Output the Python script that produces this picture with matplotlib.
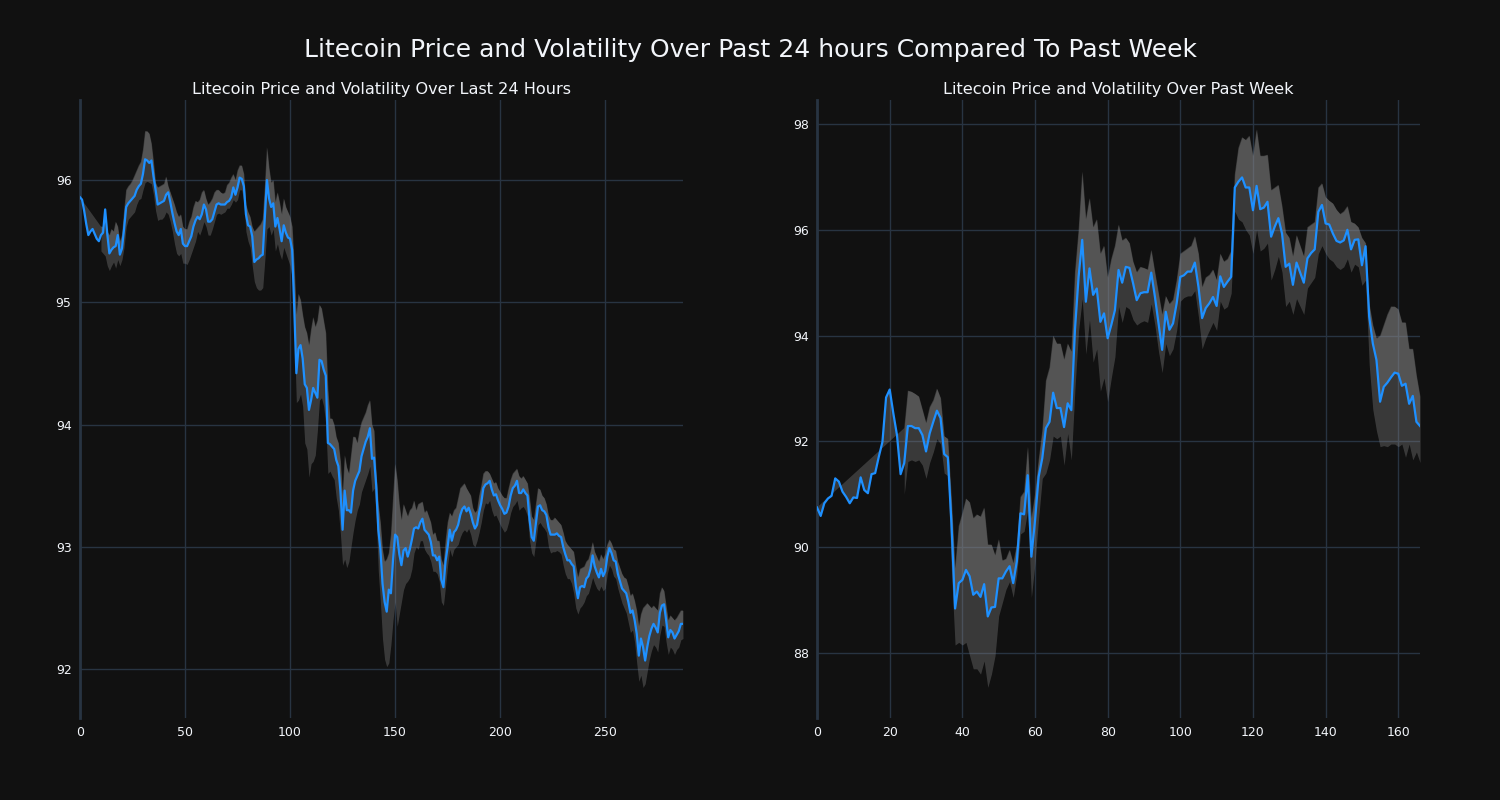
import numpy as np
import matplotlib
matplotlib.use("Agg")
import matplotlib.pyplot as plt

plt.rcParams['font.family'] = ['DejaVu Sans']

# last 24 hours, 5 minute steps
close_24h = [
    95.86, 95.84, 95.75, 95.64, 95.55, 95.58, 95.60, 95.56, 95.52, 95.50,
    95.55, 95.57, 95.76, 95.56, 95.40, 95.43, 95.45, 95.46, 95.55, 95.39,
    95.44, 95.60, 95.78, 95.81, 95.83, 95.85, 95.87, 95.92, 95.95, 95.97,
    96.05, 96.17, 96.16, 96.14, 96.16, 96.03, 95.92, 95.80, 95.81, 95.82,
    95.83, 95.88, 95.90, 95.82, 95.73, 95.65, 95.58, 95.55, 95.60, 95.48,
    95.46, 95.46, 95.50, 95.54, 95.62, 95.67, 95.70, 95.68, 95.72, 95.80,
    95.76, 95.66, 95.66, 95.68, 95.74, 95.80, 95.81, 95.80, 95.80, 95.80,
    95.82, 95.83, 95.86, 95.94, 95.88, 95.94, 96.02, 96.01, 95.95, 95.72,
    95.63, 95.62, 95.54, 95.33, 95.35, 95.36, 95.38, 95.39, 95.70, 96.00,
    95.85, 95.78, 95.81, 95.62, 95.69, 95.60, 95.50, 95.63, 95.57, 95.53,
    95.52, 95.43, 94.95, 94.42, 94.62, 94.65, 94.54, 94.33, 94.30, 94.12,
    94.20, 94.30, 94.26, 94.22, 94.53, 94.52, 94.45, 94.40, 93.85, 93.84,
    93.82, 93.80, 93.71, 93.66, 93.45, 93.14, 93.46, 93.30, 93.30, 93.28,
    93.46, 93.54, 93.58, 93.62, 93.74, 93.80, 93.86, 93.90, 93.97, 93.72,
    93.73, 93.50, 93.14, 92.98, 92.70, 92.55, 92.47, 92.65, 92.62, 92.89,
    93.10, 93.08, 92.94, 92.85, 92.97, 92.99, 92.92, 92.98, 93.06, 93.15,
    93.16, 93.15, 93.20, 93.23, 93.14, 93.12, 93.10, 93.04, 92.93, 92.93,
    92.89, 92.92, 92.73, 92.67, 92.88, 93.00, 93.14, 93.05, 93.12, 93.14,
    93.18, 93.26, 93.31, 93.33, 93.29, 93.32, 93.27, 93.20, 93.15, 93.18,
    93.28, 93.36, 93.48, 93.51, 93.52, 93.54, 93.47, 93.42, 93.43, 93.38,
    93.34, 93.31, 93.27, 93.28, 93.33, 93.42, 93.48, 93.50, 93.54, 93.44,
    93.44, 93.47, 93.44, 93.42, 93.22, 93.08, 93.05, 93.19, 93.33, 93.34,
    93.30, 93.29, 93.26, 93.16, 93.10, 93.10, 93.10, 93.11, 93.09, 93.08,
    93.00, 92.94, 92.89, 92.89, 92.86, 92.84, 92.68, 92.58, 92.67, 92.68,
    92.67, 92.74, 92.76, 92.82, 92.93, 92.84, 92.79, 92.75, 92.82, 92.76,
    92.80, 92.92, 92.99, 92.95, 92.89, 92.88, 92.78, 92.72, 92.66, 92.64,
    92.62, 92.55, 92.46, 92.48, 92.40, 92.29, 92.11, 92.25, 92.18, 92.07,
    92.18, 92.27, 92.33, 92.37, 92.34, 92.30, 92.46, 92.52, 92.53, 92.40,
    92.26, 92.32, 92.30, 92.25, 92.28, 92.31, 92.37, 92.37,
]

upper_24h = [np.nan] * 10 + [
    95.62, 95.62, 95.60, 95.58, 95.55, 95.60, 95.58, 95.66, 95.62, 95.50,
    95.55, 95.75, 95.92, 95.95, 95.97, 96.00, 96.04, 96.08, 96.12, 96.15,
    96.25, 96.40, 96.40, 96.38, 96.30, 96.15, 95.98, 95.94, 95.95, 95.96,
    95.97, 96.03, 95.95, 95.90, 95.85, 95.80, 95.74, 95.70, 95.72, 95.62,
    95.60, 95.60, 95.66, 95.70, 95.78, 95.83, 95.82, 95.84, 95.90, 95.92,
    95.85, 95.80, 95.82, 95.85, 95.90, 95.92, 95.92, 95.90, 95.89, 95.90,
    95.96, 95.98, 96.02, 96.05, 96.00, 96.08, 96.12, 96.12, 96.05, 95.80,
    95.74, 95.70, 95.62, 95.58, 95.60, 95.62, 95.64, 95.68, 95.95, 96.27,
    96.10, 95.98, 96.00, 95.82, 95.90, 95.82, 95.72, 95.85, 95.78, 95.74,
    95.70, 95.62, 95.30, 94.90, 95.07, 95.02, 94.90, 94.80, 94.75, 94.65,
    94.78, 94.88, 94.80, 94.85, 94.98, 94.95, 94.85, 94.75, 94.30, 94.05,
    94.05, 94.00, 93.90, 93.85, 93.70, 93.42, 93.75, 93.65, 93.60, 93.75,
    93.90, 93.90, 93.85, 93.95, 94.02, 94.06, 94.10, 94.16, 94.20, 94.00,
    93.95, 93.60, 93.35, 93.20, 92.98, 92.88, 92.90, 92.95, 93.10, 93.40,
    93.68, 93.55, 93.35, 93.22, 93.35, 93.30, 93.25, 93.30, 93.32, 93.38,
    93.30, 93.35, 93.36, 93.37, 93.28, 93.30, 93.25, 93.20, 93.10, 93.12,
    93.05, 93.05, 92.90, 92.85, 93.05, 93.20, 93.28, 93.25, 93.30, 93.32,
    93.40, 93.48, 93.50, 93.52, 93.48, 93.45, 93.42, 93.32, 93.28, 93.30,
    93.42, 93.50, 93.60, 93.62, 93.62, 93.60, 93.56, 93.52, 93.53, 93.48,
    93.45, 93.42, 93.40, 93.40, 93.48, 93.55, 93.60, 93.62, 93.64, 93.58,
    93.56, 93.58, 93.55, 93.52, 93.40, 93.25, 93.22, 93.35, 93.48, 93.47,
    93.42, 93.40, 93.35, 93.26, 93.22, 93.22, 93.24, 93.22, 93.20, 93.18,
    93.12, 93.05, 93.02, 93.00, 92.98, 92.96, 92.85, 92.75, 92.82, 92.83,
    92.84, 92.88, 92.90, 92.96, 93.04, 92.96, 92.92, 92.88, 92.94, 92.90,
    92.94, 93.02, 93.06, 93.03, 92.98, 92.97, 92.88, 92.83, 92.78, 92.75,
    92.74, 92.68, 92.60, 92.62, 92.56, 92.48, 92.35, 92.45, 92.50, 92.52,
    92.54, 92.52, 92.50, 92.52, 92.50, 92.48, 92.62, 92.67, 92.64, 92.52,
    92.40, 92.44, 92.42, 92.40, 92.42, 92.45, 92.48, 92.48,
]

lower_24h = [np.nan] * 10 + [
    95.42, 95.40, 95.38, 95.30, 95.26, 95.30, 95.33, 95.28, 95.35, 95.30,
    95.35, 95.45, 95.62, 95.68, 95.70, 95.72, 95.74, 95.80, 95.84, 95.85,
    95.92, 95.98, 95.99, 95.98, 95.97, 95.88, 95.75, 95.67, 95.68, 95.68,
    95.70, 95.74, 95.72, 95.66, 95.58, 95.48, 95.40, 95.38, 95.40, 95.32,
    95.32, 95.31, 95.35, 95.40, 95.45, 95.50, 95.58, 95.55, 95.60, 95.66,
    95.62, 95.55, 95.55, 95.60, 95.66, 95.72, 95.73, 95.72, 95.73, 95.74,
    95.77, 95.77, 95.80, 95.84, 95.82, 95.84, 95.92, 95.92, 95.82, 95.58,
    95.50, 95.45, 95.30, 95.17, 95.12, 95.10, 95.10, 95.12, 95.35, 95.60,
    95.62, 95.55, 95.60, 95.42, 95.48, 95.40, 95.35, 95.45, 95.40, 95.35,
    95.30, 95.20, 94.75, 94.18, 94.20, 94.25, 94.15, 93.85, 93.80, 93.57,
    93.68, 93.70, 93.75, 93.95, 94.20, 94.22, 94.15, 94.00, 93.60, 93.62,
    93.58, 93.55, 93.40, 93.30, 93.10, 92.85, 92.90, 92.83, 92.88, 93.00,
    93.12, 93.22, 93.30, 93.35, 93.45, 93.50, 93.55, 93.60, 93.66, 93.45,
    93.48, 93.25, 92.80, 92.55, 92.25, 92.08, 92.02, 92.05, 92.20, 92.40,
    92.55, 92.35, 92.45, 92.55, 92.65, 92.70, 92.72, 92.75, 92.82, 92.95,
    93.00, 92.98, 93.05, 93.05, 92.98, 92.95, 92.93, 92.88, 92.80, 92.80,
    92.78, 92.72, 92.55, 92.52, 92.68, 92.85, 92.98, 92.92, 92.98, 93.00,
    93.02, 93.08, 93.12, 93.14, 93.12, 93.15, 93.10, 93.02, 93.00, 93.05,
    93.12, 93.20, 93.30, 93.36, 93.35, 93.38, 93.30, 93.25, 93.26, 93.22,
    93.18, 93.15, 93.12, 93.14, 93.20, 93.28, 93.33, 93.35, 93.38, 93.30,
    93.32, 93.33, 93.30, 93.25, 93.05, 92.95, 92.92, 93.05, 93.18, 93.20,
    93.17, 93.15, 93.12, 93.00, 92.95, 92.96, 92.96, 92.97, 92.96, 92.94,
    92.85, 92.78, 92.74, 92.74, 92.70, 92.62, 92.50, 92.45, 92.50, 92.52,
    92.55, 92.60, 92.62, 92.68, 92.75, 92.70, 92.66, 92.64, 92.68, 92.64,
    92.66, 92.78, 92.85, 92.82, 92.76, 92.74, 92.66, 92.60, 92.54, 92.50,
    92.46, 92.38, 92.30, 92.32, 92.22, 92.05, 91.90, 91.95, 91.85, 91.88,
    91.98, 92.08, 92.15, 92.20, 92.18, 92.14, 92.28, 92.36, 92.35, 92.22,
    92.12, 92.18, 92.16, 92.12, 92.16, 92.18, 92.24, 92.25,
]

# past week, hourly steps
close_week = [
    90.75, 90.59, 90.83, 90.92, 90.97, 91.30, 91.24, 91.05, 90.95, 90.83,
    90.94, 90.93, 91.32, 91.08, 91.02, 91.38, 91.40, 91.71, 91.99, 92.83,
    92.98, 92.53, 92.12, 91.38, 91.59, 92.29, 92.29, 92.25, 92.25, 92.12,
    91.81, 92.15, 92.37, 92.58, 92.44, 91.76, 91.70, 90.45, 88.84, 89.32,
    89.38, 89.57, 89.45, 89.10, 89.16, 89.06, 89.30, 88.69, 88.86, 88.87,
    89.41, 89.41, 89.54, 89.64, 89.32, 89.73, 90.64, 90.62, 91.36, 89.82,
    90.50, 91.33, 91.68, 92.25, 92.37, 92.92, 92.63, 92.63, 92.27, 92.72,
    92.59, 94.11, 95.11, 95.81, 94.64, 95.27, 94.77, 94.89, 94.26, 94.42,
    93.95, 94.20, 94.48, 95.24, 95.00, 95.30, 95.28, 94.99, 94.67, 94.80,
    94.82, 94.82, 95.19, 94.74, 94.23, 93.73, 94.45, 94.11, 94.23, 94.61,
    95.11, 95.14, 95.21, 95.21, 95.38, 94.92, 94.33, 94.52, 94.61, 94.73,
    94.56, 95.12, 94.92, 95.02, 95.11, 96.80, 96.91, 96.99, 96.80, 96.80,
    96.37, 96.83, 96.39, 96.42, 96.53, 95.87, 96.06, 96.22, 95.93, 95.30,
    95.36, 94.96, 95.38, 95.19, 95.00, 95.46, 95.56, 95.63, 96.34, 96.47,
    96.12, 96.10, 95.93, 95.79, 95.76, 95.80, 96.00, 95.63, 95.81, 95.82,
    95.33, 95.69, 94.36, 93.85, 93.54, 92.75, 93.03, 93.11, 93.21, 93.30,
    93.28, 93.05, 93.09, 92.71, 92.86, 92.37, 92.29,
]

upper_week = [np.nan] * 24 + [
    92.25, 92.96, 92.94, 92.90, 92.85, 92.60, 92.35, 92.65, 92.78, 93.00,
    92.82, 92.10, 92.05, 90.90, 89.60, 90.40, 90.65, 90.92, 90.85, 90.55,
    90.62, 90.58, 90.75, 90.05, 90.05, 89.85, 90.15, 89.75, 89.78, 89.95,
    89.70, 90.05, 90.95, 91.05, 91.90, 90.55, 91.00, 91.65, 92.20, 93.15,
    93.40, 94.00, 93.85, 93.85, 93.55, 93.85, 93.70, 95.20, 96.00, 97.10,
    96.20, 96.60, 96.05, 96.20, 95.55, 95.70, 95.10, 95.45, 95.70, 96.10,
    95.80, 95.85, 95.75, 95.40, 95.20, 95.30, 95.28, 95.25, 95.62, 95.20,
    94.80, 94.40, 94.75, 94.60, 94.68, 95.05, 95.55, 95.60, 95.65, 95.70,
    95.88, 95.55, 94.92, 95.10, 95.15, 95.25, 95.05, 95.55, 95.40, 95.45,
    95.60, 97.05, 97.55, 97.75, 97.70, 97.78, 97.40, 97.90, 97.40, 97.40,
    97.42, 96.75, 96.80, 96.85, 96.45, 95.95, 95.85, 95.50, 95.90, 95.70,
    95.50, 96.05, 96.10, 96.15, 96.80, 96.88, 96.62, 96.55, 96.50, 96.38,
    96.30, 96.35, 96.45, 96.15, 96.12, 96.05, 95.85, 95.75, 94.60, 94.20,
    93.95, 94.00, 94.20, 94.40, 94.55, 94.55, 94.50, 94.25, 94.25, 93.75,
    93.75, 93.25, 92.85,
]

lower_week = [np.nan] * 24 + [
    91.00, 91.62, 91.65, 91.62, 91.65, 91.55, 91.30, 91.60, 91.80, 92.05,
    91.95, 91.40, 91.35, 89.55, 88.15, 88.20, 88.15, 88.20, 87.95, 87.70,
    87.70, 87.60, 87.85, 87.35, 87.60, 87.95, 88.70, 88.95, 89.20, 89.35,
    89.05, 89.50, 90.25, 90.30, 90.70, 89.05, 89.70, 90.55, 91.30, 91.40,
    91.65, 92.10, 92.05, 92.10, 91.55, 92.15, 91.65, 93.00, 94.10, 94.70,
    93.65, 94.30, 93.50, 93.75, 92.95, 93.20, 92.75, 93.20, 93.60, 94.55,
    94.25, 94.55, 94.50, 94.30, 94.20, 94.25, 94.28, 94.25, 94.60, 94.20,
    93.70, 93.30, 93.85, 93.62, 93.75, 94.10, 94.65, 94.72, 94.75, 94.75,
    94.85, 94.35, 93.75, 93.95, 94.10, 94.25, 94.10, 94.65, 94.50, 94.55,
    94.80, 96.35, 96.20, 96.15, 96.00, 95.90, 95.55, 96.00, 95.60, 95.65,
    95.75, 95.05, 95.25, 95.50, 95.20, 94.55, 94.65, 94.40, 94.70, 94.55,
    94.40, 94.90, 95.00, 95.10, 95.55, 95.70, 95.55, 95.45, 95.40, 95.30,
    95.25, 95.30, 95.45, 95.20, 95.35, 95.30, 94.95, 95.05, 93.45, 92.60,
    92.20, 91.90, 91.92, 91.90, 91.95, 91.95, 91.90, 91.95, 91.70, 91.95,
    91.65, 91.80, 91.60,
]

BG = '#111111'
GRID = '#283442'
TEXT = '#f2f5fa'
LINE = '#1e90ff'
BAND = '#898989'


def draw(ax, close, upper, lower, title, xticks, yticks, ylim):
    close = np.array(close)
    upper = np.array(upper)
    lower = np.array(lower)
    x = np.arange(len(close))
    ok = ~np.isnan(upper)
    # price -> upper band, then upper -> lower band, both half transparent
    ax.fill(np.concatenate([x, x[ok][::-1]]),
            np.concatenate([close, upper[ok][::-1]]),
            color=BAND, alpha=0.34, lw=0, zorder=1)
    ax.fill_between(x[ok], upper[ok], lower[ok], color=BAND, alpha=0.34,
                    lw=0, zorder=1)
    ax.plot(x, close, color=LINE, lw=1.6, zorder=3)

    ax.set_facecolor(BG)
    ax.set_xlim(0, len(close) - 1)
    ax.set_ylim(*ylim)
    ax.set_xticks(xticks)
    ax.set_yticks(yticks)
    ax.grid(True, color=GRID, lw=1)
    ax.set_axisbelow(True)
    for s in ['top', 'right', 'bottom']:
        ax.spines[s].set_visible(False)
    ax.spines['left'].set_color(GRID)
    ax.spines['left'].set_linewidth(2)
    ax.tick_params(length=0, colors=TEXT, labelsize=9, pad=6)
    ax.set_title(title, color=TEXT, fontsize=11.6, pad=4)


fig = plt.figure(figsize=(15, 8), dpi=100, facecolor=BG)
ax1 = fig.add_axes([0.0533, 0.1025, 0.402, 0.7725])
ax2 = fig.add_axes([0.5447, 0.1025, 0.402, 0.7725])

draw(ax1, close_24h, upper_24h, lower_24h,
     'Litecoin Price and Volatility Over Last 24 Hours',
     [0, 50, 100, 150, 200, 250], [92, 93, 94, 95, 96], (91.6, 96.655))
draw(ax2, close_week, upper_week, lower_week,
     'Litecoin Price and Volatility Over Past Week',
     [0, 20, 40, 60, 80, 100, 120, 140, 160], [88, 90, 92, 94, 96, 98],
     (86.77, 98.454))

fig.suptitle('Litecoin Price and Volatility Over Past 24 hours Compared To Past Week',
             color=TEXT, fontsize=18, y=0.952)

fig.savefig('out.png', dpi=100, facecolor=BG)
